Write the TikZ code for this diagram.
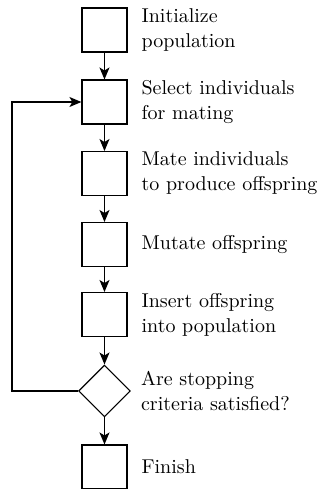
\documentclass[tikz,border=0pt]{standalone}
\usetikzlibrary{arrows.meta,shapes.geometric}

\tikzset{
  stepbox/.style={draw, semithick, minimum width=0.79cm, minimum height=0.77cm, inner sep=0pt},
  decision/.style={draw, semithick, diamond, aspect=1, minimum size=0.91cm, inner sep=0pt},
  steptext/.style={right, align=left, inner sep=0pt, font=\fontsize{10}{12.5}\selectfont},
  flow/.style={semithick, -{Stealth[length=6pt,width=5pt,inset=1.5pt]}}
}

\begin{document}
\begin{tikzpicture}

    % Fix the page size
    \useasboundingbox (0,0) rectangle (5.64,-8.645);

    % Steps of the loop
    \node[stepbox] (init)   at (1.836,-0.527) {};
    \node[stepbox] (select) at (1.836,-1.792) {};
    \node[stepbox] (mate)   at (1.836,-3.049) {};
    \node[stepbox] (mutate) at (1.836,-4.296) {};
    \node[stepbox] (insert) at (1.836,-5.526) {};
    \node[decision] (stop)  at (1.836,-6.870) {};
    \node[stepbox] (finish) at (1.836,-8.205) {};

    % Turning point of the loop back
    \coordinate (back) at (0.211,-6.870);

    % Texts beside the steps
    \node[steptext, xshift=0.24cm] (tinit)   at (init.east)   {Initialize\\population};
    \node[steptext, xshift=0.24cm] (tselect) at (select.east) {Select individuals\\for mating};
    \node[steptext, xshift=0.24cm] (tmate)   at (mate.east)   {Mate individuals\\to produce offspring};
    \node[steptext, xshift=0.24cm] (tmutate) at (mutate.east) {Mutate offspring};
    \node[steptext, xshift=0.24cm] (tinsert) at (insert.east) {Insert offspring\\into population};
    \node[steptext, xshift=0.17cm] (tstop)   at (stop.east)   {Are stopping\\criteria satisfied?};
    \node[steptext, xshift=0.24cm] (tfinish) at (finish.east) {Finish};

    % Connectors
    \draw[flow] (init) -- (select);
    \draw[flow] (select) -- (mate);
    \draw[flow] (mate) -- (mutate);
    \draw[flow] (mutate) -- (insert);
    \draw[flow] (insert) -- (stop);
    \draw[flow] (stop) -- (finish);
    \draw[flow] (stop.west) -- (back) |- (select.west);

\end{tikzpicture}
\end{document}
